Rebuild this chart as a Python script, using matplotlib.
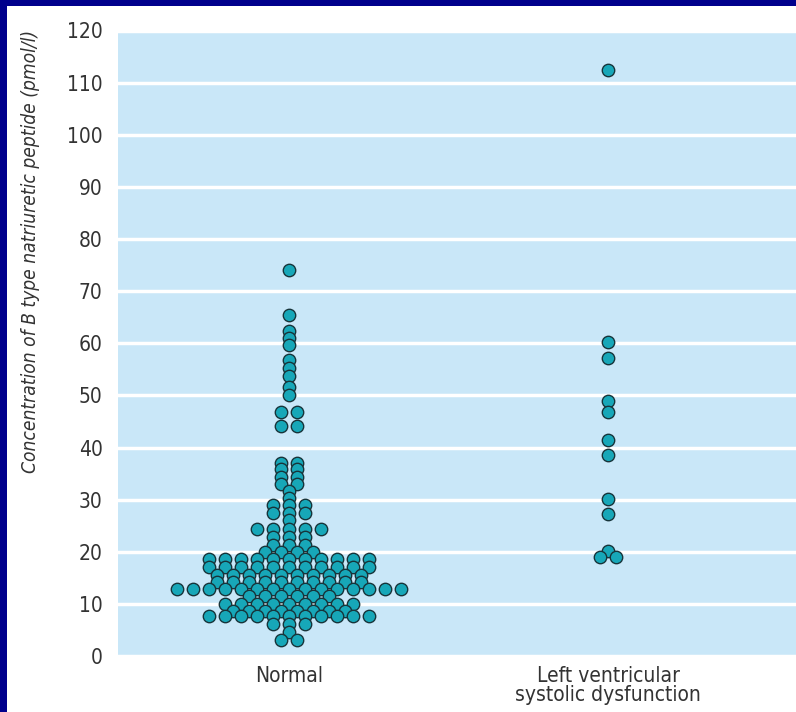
import numpy as np
import matplotlib.pyplot as plt
from matplotlib.patches import Rectangle

# values (pmol/l) and how many dots sit at each level
normal_levels = [74.0, 65.5, 62.4, 61.1, 59.6, 56.7, 55.2, 53.8, 51.6, 50.0,
                 46.8, 44.2, 37.1, 35.9, 34.4, 33.0, 31.7, 30.3, 28.9, 27.4,
                 26.0, 24.4, 22.8, 21.3, 20.0, 18.6, 17.1, 15.6, 14.2, 12.9,
                 11.5, 10.0, 8.7, 7.6, 6.2, 4.6, 3.0]
normal_counts = [1, 1, 1, 1, 1, 1, 1, 1, 1, 1,
                 2, 2, 2, 2, 2, 2, 1, 1, 3, 3,
                 1, 5, 3, 3, 4, 11, 11, 10, 10, 15,
                 6, 9, 8, 11, 3, 1, 2]

lvsd_levels = [112.5, 60.2, 57.1, 48.9, 46.9, 41.5, 38.5, 30.2, 27.2, 20.2, 19.0]
lvsd_counts = [1, 1, 1, 1, 1, 1, 1, 1, 1, 1, 2]

groups = ['Normal', 'Left ventricular\nsystolic dysfunction']
yticks = list(range(0, 121, 10))

font = ['DejaVu Sans']


def dot_rows(center, levels, counts, step=0.05):
    # spread the dots of one level side by side, centred on the group
    xs, ys = [], []
    for v, n in zip(levels, counts):
        for i in range(n):
            xs.append(center + (i - (n - 1) / 2) * step)
            ys.append(v)
    return xs, ys


fig = plt.figure(figsize=(7.96, 7.12), dpi=100, facecolor='#00008c')
fig.patches.append(Rectangle((7 / 796, 0), 1, 706 / 712, transform=fig.transFigure,
                             facecolor='white', edgecolor='none', zorder=-1))

ax = fig.add_axes([118 / 796, 56 / 712, 678 / 796, 625.5 / 712])
ax.set_facecolor('#c9e7f8')

for pos, (lv, ct) in enumerate([(normal_levels, normal_counts), (lvsd_levels, lvsd_counts)]):
    x, y = dot_rows(pos, lv, ct)
    ax.scatter(x, y, s=80, color='#17a7b8', edgecolor='#17343a', linewidth=1.0, zorder=3)

ax.set_xlim(-0.536, 1.589)
ax.set_ylim(0, 120)
ax.set_yticks(yticks)
ax.set_yticklabels([str(t) for t in yticks], family=font, stretch='condensed',
                   fontsize=15, color='#333333')
ax.set_xticks([0, 1])
ax.set_xticklabels(groups, family=font, stretch='condensed', fontsize=15,
                   color='#333333', linespacing=0.95)
ax.yaxis.grid(True, color='white', linewidth=2.5)
ax.set_axisbelow(True)
for s in ax.spines.values():
    s.set_visible(False)
ax.tick_params(axis='y', length=0, pad=11)
ax.tick_params(axis='x', length=0, pad=7)

fig.text(31 / 796, 1 - 251 / 712, 'Concentration of B type natriuretic peptide (pmol/l)',
         rotation=90, ha='center', va='center', style='italic', family=font,
         stretch='condensed', fontsize=13.8, color='#333333')

fig.savefig('out.png', dpi=100, facecolor=fig.get_facecolor())
